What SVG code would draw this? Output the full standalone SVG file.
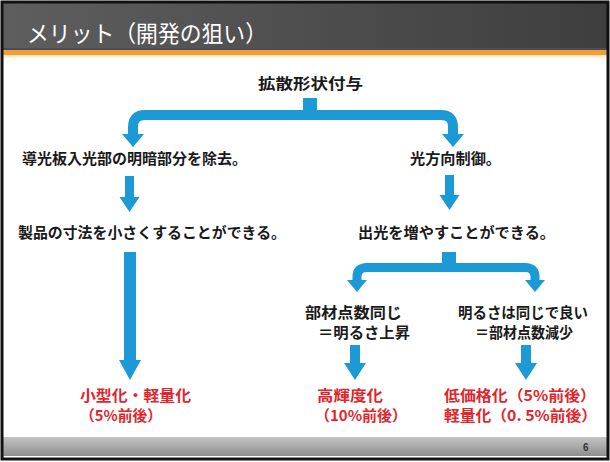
<svg xmlns="http://www.w3.org/2000/svg" width="610" height="462" viewBox="0 0 610 462">
<defs>
<linearGradient id="titleGrad" x1="0" y1="0" x2="1" y2="0">
<stop offset="0" stop-color="#5e5e5e"/>
<stop offset="1" stop-color="#3e3e3e"/>
</linearGradient>
<linearGradient id="footGrad" x1="0" y1="0" x2="0" y2="1">
<stop offset="0" stop-color="#c4c4c4"/>
<stop offset="1" stop-color="#8e8e8e"/>
</linearGradient>
<linearGradient id="orangeFade" x1="0" y1="0" x2="0" y2="1">
<stop offset="0" stop-color="#fbe3b8"/>
<stop offset="1" stop-color="#ffffff"/>
</linearGradient>
</defs>
<style>
.t{font-family:"Noto Sans CJK JP","Noto Sans CJK SC",sans-serif;font-weight:bold;font-size:15px;fill:#1a1a1a}
.r{fill:#e3242b}
.title{font-family:"Noto Sans CJK JP","Noto Sans CJK SC",sans-serif;font-size:23px;fill:#ffffff}
.num{font-family:"Liberation Sans",sans-serif;font-size:10px;font-weight:bold;fill:#333}
.blue{fill:#1c9ad6}
.brace{fill:none;stroke:#1c9ad6;stroke-linecap:butt;stroke-linejoin:round}
</style>
<rect x="0" y="0" width="610" height="462" fill="#ffffff"/>
<!-- title bar -->
<rect x="3" y="3" width="604" height="47" fill="url(#titleGrad)"/>
<rect x="3" y="48" width="604" height="2" fill="#4a4a62"/>
<rect x="3" y="50" width="604" height="5" fill="#f0a030"/>
<rect x="3" y="55" width="604" height="4" fill="url(#orangeFade)"/>
<text class="title" x="27" y="42" textLength="240" lengthAdjust="spacingAndGlyphs">メリット（開発の狙い）</text>
<!-- footer -->
<rect x="3" y="437" width="604" height="19" fill="url(#footGrad)"/>
<text class="num" x="583" y="451">6</text>
<rect x="2" y="2" width="606" height="457" fill="none" stroke="#111" stroke-width="3"/>

<g id="connectors">
<rect class="blue" x="303" y="98" width="14" height="14"/>
<path class="brace" stroke-width="10" d="M133,135 V127 Q133,115 145,115 H441 Q453,115 453,127 V135"/>
<polygon class="blue" points="122,134 144,134 133,147"/>
<polygon class="blue" points="442,134 464,134 453,147"/>
<polygon class="blue" points="125,176 134,176 134,197 139.5,197 129.5,212 119.5,197 125,197"/>
<polygon class="blue" points="445,175 454,175 454,195 459.5,195 449.5,210 439.5,195 445,195"/>
<polygon class="blue" points="124,252 136,252 136,360 141,360 130,380 119,360 124,360"/>
<rect class="blue" x="442" y="252" width="14" height="12"/>
<path class="brace" stroke-width="9" d="M357,281 V277 Q357,267.5 367,267.5 H525 Q535,267.5 535,277 V281"/>
<polygon class="blue" points="347,280 367,280 357,292"/>
<polygon class="blue" points="525,280 545,280 535,292"/>
<polygon class="blue" points="350,345 360,345 360,363 366,363 355,380 344,363 350,363"/>
<polygon class="blue" points="521,345 531,345 531,363 537,363 526,380 515,363 521,363"/>
</g>

<g id="n-root"><text class="t" x="258" y="89" textLength="105" lengthAdjust="spacingAndGlyphs">拡散形状付与</text></g>
<g id="n-left1"><text class="t" x="22" y="163.5" textLength="225" lengthAdjust="spacingAndGlyphs">導光板入光部の明暗部分を除去。</text></g>
<g id="n-right1"><text class="t" x="410" y="163.5" textLength="91" lengthAdjust="spacingAndGlyphs">光方向制御。</text></g>
<g id="n-left2"><text class="t" x="18" y="237.5" textLength="268" lengthAdjust="spacingAndGlyphs">製品の寸法を小さくすることができる。</text></g>
<g id="n-right2"><text class="t" x="358" y="237.5" textLength="197" lengthAdjust="spacingAndGlyphs">出光を増やすことができる。</text></g>
<g id="n-mid3">
<text class="t" x="305" y="317.5" textLength="97" lengthAdjust="spacingAndGlyphs">部材点数同じ</text>
<text class="t" x="318" y="337.5" textLength="92" lengthAdjust="spacingAndGlyphs">＝明るさ上昇</text>
</g>
<g id="n-right3">
<text class="t" x="458" y="317.5" textLength="130" lengthAdjust="spacingAndGlyphs">明るさは同じで良い</text>
<text class="t" x="475" y="337.5" textLength="98" lengthAdjust="spacingAndGlyphs">＝部材点数減少</text>
</g>
<g id="n-res1">
<text class="t r" x="80" y="401" textLength="111" lengthAdjust="spacingAndGlyphs">小型化・軽量化</text>
<text class="t r" x="80" y="421" textLength="82" lengthAdjust="spacingAndGlyphs">（5%前後）</text>
</g>
<g id="n-res2">
<text class="t r" x="317" y="401" textLength="66" lengthAdjust="spacingAndGlyphs">高輝度化</text>
<text class="t r" x="315" y="421" textLength="92" lengthAdjust="spacingAndGlyphs">（10%前後）</text>
</g>
<g id="n-res3">
<text class="t r" x="444" y="401" textLength="152" lengthAdjust="spacingAndGlyphs">低価格化（5%前後）</text>
<text class="t r" x="444" y="421" textLength="153" lengthAdjust="spacingAndGlyphs">軽量化（0. 5%前後）</text>
</g>
</svg>
